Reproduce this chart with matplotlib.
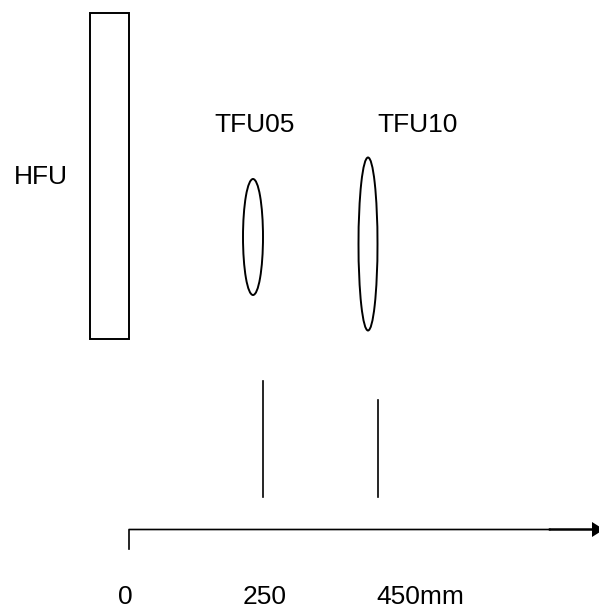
import matplotlib
matplotlib.use('Agg')
import matplotlib.pyplot as plt
from matplotlib.patches import Rectangle, Ellipse, Polygon

W = 599
H = 608

# label text and where it sits (pixels of the reference, y down)
labels = ['HFU', 'TFU05', 'TFU10', '0', '250', '450mm']
label_x = [14, 214, 377, 118, 243, 376]
label_y = [177, 125, 125, 597, 597, 597]

# boxes: x0, y0, x1, y1
rect_box = [90, 13, 129, 339]
lens_centres = [(253, 237), (368, 244)]
lens_sizes = [(20, 116), (19, 173)]

# vertical markers
marker_x = [263, 378]
marker_top = [381, 400]
marker_bottom = [497, 497]

# axis line, the last stretch is drawn heavier
axis_x = [129, 129, 550]
axis_y = [549, 529.5, 529.5]
heavy_x = [550, 592]

if __name__ == "__main__":
    fig = plt.figure(figsize=(W / 100, H / 100), dpi=100)
    ax = fig.add_axes([0, 0, 1, 1])
    ax.set_xlim(0, W)
    ax.set_ylim(H, 0)
    ax.axis('off')

    ax.add_patch(Rectangle((rect_box[0], rect_box[1]), rect_box[2] - rect_box[0],
                           rect_box[3] - rect_box[1], fill=False, ec='black', lw=1.4))
    for c, s in zip(lens_centres, lens_sizes):
        ax.add_patch(Ellipse(c, s[0], s[1], fill=False, ec='black', lw=1.4))
    for x, t, b in zip(marker_x, marker_top, marker_bottom):
        ax.plot([x, x], [t, b], color='black', lw=1.2)

    ax.plot(axis_x, axis_y, color='black', lw=1.2, snap=False)
    ax.plot(heavy_x, [529.5, 529.5], color='black', lw=1.8, snap=False)
    ax.add_patch(Polygon([(592, 522), (592, 537), (604, 529.5)], closed=True, fc='black', ec='none'))

    for t, x, y in zip(labels, label_x, label_y):
        ax.text(x, y, t, fontsize=19, family='Liberation Sans', ha='left', va='center', color='black')

    fig.savefig('out.png', dpi=100)
